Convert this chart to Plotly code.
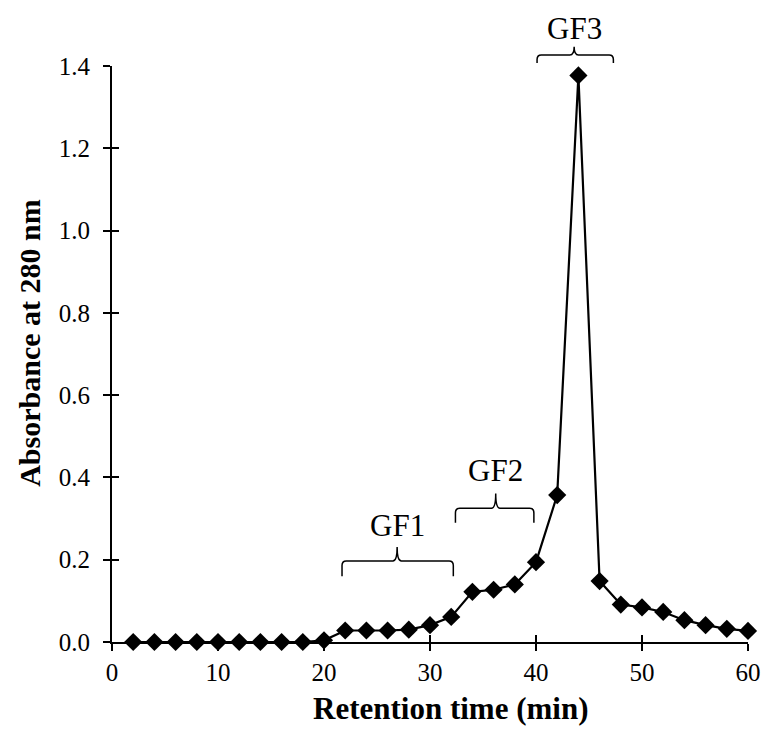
import plotly.graph_objects as go

# Data
time_min = [2, 4, 6, 8, 10, 12, 14, 16, 18, 20, 22, 24, 26, 28, 30, 32, 34, 36, 38, 40,
            42, 44, 46, 48, 50, 52, 54, 56, 58, 60]
absorbance = [0.0, 0.0, 0.0, 0.0, 0.0, 0.0, 0.0, 0.0, 0.0, 0.004, 0.028, 0.028, 0.028, 0.030,
              0.041, 0.061, 0.122, 0.127, 0.140, 0.194, 0.357, 1.377, 0.148, 0.091, 0.084,
              0.073, 0.053, 0.041, 0.032, 0.027]

x_ticks = [0, 10, 20, 30, 40, 50, 60]
y_ticks = [0.0, 0.2, 0.4, 0.6, 0.8, 1.0, 1.2, 1.4]
y_tick_labels = ["0.0", "0.2", "0.4", "0.6", "0.8", "1.0", "1.2", "1.4"]

x_title = "Retention time (min)"
y_title = "Absorbance at 280 nm"

# Fraction brackets
frac_labels = ["GF1", "GF2", "GF3"]
frac_start = [21.7, 32.4, 40.1]
frac_end = [32.2, 39.8, 47.3]
frac_center = [26.9, 36.2, 43.6]
frac_line_y = [0.197, 0.325, 1.427]
frac_end_y = [0.160, 0.290, 1.407]
frac_tip_y = [0.231, 0.361, 1.447]
frac_label_y = [0.284, 0.418, 1.492]

Y_MAX = 1.4
FONT = "Liberation Serif, Times New Roman, serif"

fig = go.Figure()
fig.add_trace(go.Scatter(
    x=time_min, y=absorbance, mode="lines+markers",
    line=dict(color="black", width=2.2),
    marker=dict(symbol="diamond", size=14, color="black"),
    cliponaxis=False, showlegend=False,
))
# invisible trace for overlay axes (inner half of cross ticks)
fig.add_trace(go.Scatter(x=[0], y=[0], xaxis="x2", yaxis="y2", mode="markers",
                         marker=dict(opacity=0), showlegend=False, hoverinfo="skip"))


def brace_path(x0, x1, xc, yb, ye, yt):
    rx = 0.4
    ry = 0.008
    p = (f"M {x0},{ye} L {x0},{yb - ry} Q {x0},{yb} {x0 + rx},{yb} "
         f"L {xc - rx},{yb} Q {xc},{yb} {xc},{yt} "
         f"Q {xc},{yb} {xc + rx},{yb} "
         f"L {x1 - rx},{yb} Q {x1},{yb} {x1},{yb - ry} L {x1},{ye}")
    return p


for lab, xs, xe, xc, yl, ye, yt, ly in zip(frac_labels, frac_start, frac_end, frac_center,
                                            frac_line_y, frac_end_y, frac_tip_y, frac_label_y):
    fig.add_shape(type="path", xref="x", yref="paper",
                  path=brace_path(xs, xe, xc, yl / Y_MAX, ye / Y_MAX, yt / Y_MAX),
                  line=dict(color="black", width=1.5))
    fig.add_annotation(x=xc, y=ly / Y_MAX, xref="x", yref="paper", text=lab,
                       showarrow=False, xanchor="center", yanchor="middle",
                       font=dict(family=FONT, size=31, color="black"))

# axis titles
fig.add_annotation(x=0.533, y=-0.115, xref="paper", yref="paper",
                   text=f"<b>{x_title}</b>", showarrow=False,
                   xanchor="center", yanchor="middle",
                   font=dict(family=FONT, size=31, color="black"))
fig.add_annotation(x=-0.130, y=0.52, xref="paper", yref="paper",
                   text=f"<b>{y_title}</b>", showarrow=False, textangle=-90,
                   xanchor="center", yanchor="middle",
                   font=dict(family=FONT, size=30, color="black"))

fig.update_layout(
    width=773, height=729,
    margin=dict(l=112, r=17, t=66, b=87),
    plot_bgcolor="white", paper_bgcolor="white",
    font=dict(family=FONT, color="black"),
    xaxis=dict(range=[0, 60], tickvals=x_ticks, ticks="outside", ticklen=7, tickwidth=2,
               tickcolor="black", showline=True, linecolor="black", linewidth=2,
               showgrid=False, zeroline=False, tickfont=dict(size=25, family=FONT)),
    yaxis=dict(range=[0, Y_MAX], tickvals=y_ticks, ticktext=y_tick_labels, ticks="outside",
               ticklen=7, tickwidth=2, tickcolor="black", showline=True, linecolor="black",
               linewidth=2, showgrid=False, zeroline=False, ticklabelstandoff=8,
               tickfont=dict(size=25, family=FONT)),
    xaxis2=dict(range=[0, 60], overlaying="x", tickvals=x_ticks, ticks="inside", ticklen=7,
                tickwidth=2, tickcolor="black", showticklabels=False, showline=False,
                showgrid=False, zeroline=False),
    yaxis2=dict(range=[0, Y_MAX], overlaying="y", tickvals=y_ticks, ticks="inside", ticklen=7,
                tickwidth=2, tickcolor="black", showticklabels=False, showline=False,
                showgrid=False, zeroline=False),
)

fig.write_html("out.html", config={"displayModeBar": False},
               post_script="document.body.style.margin='0';document.body.style.overflow='hidden';")
